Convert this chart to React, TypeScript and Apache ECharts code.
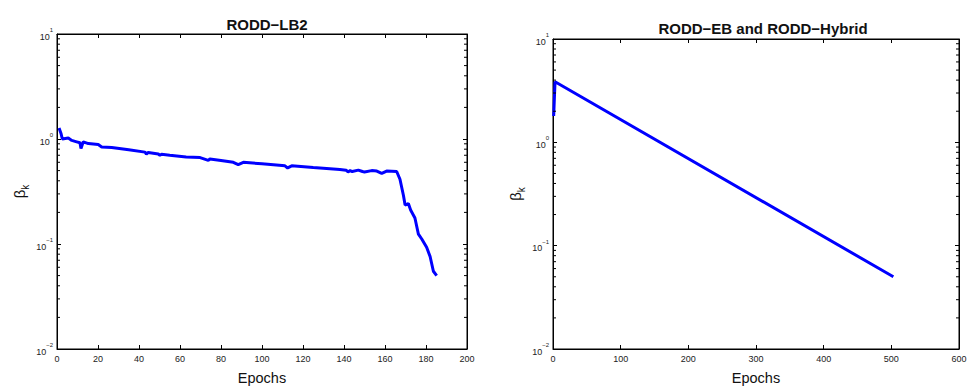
import React, { useEffect, useRef } from "react";
import * as echarts from "echarts";

// Left panel: RODD−LB2, beta_k per epoch
const lb2Epochs = [1, 2, 2.6, 5.5, 7.2, 9.6, 11.2, 11.7, 12.8, 15.3, 20.1, 21.8, 26.7, 35, 42.9, 43.6, 44.5, 49.4, 50.2, 51, 55, 63, 69.8, 73.8, 74.6, 80, 86, 88.4, 90.9, 100, 111.2, 112.5, 114.5, 125, 138, 141, 142, 143, 144, 147, 149, 150, 153.5, 156, 158.4, 160.8, 165.7, 167.3, 169, 169.8, 171.4, 172.5, 174.6, 176.3, 178, 180.3, 182, 183.6, 185.2];
const lb2Beta = [1.27, 1.12, 1.0, 1.02, 0.97, 0.94, 0.92, 0.81, 0.94, 0.905, 0.886, 0.84, 0.83, 0.79, 0.75, 0.72, 0.745, 0.72, 0.7, 0.715, 0.7, 0.675, 0.665, 0.625, 0.645, 0.625, 0.6, 0.57, 0.6, 0.58, 0.555, 0.53, 0.555, 0.535, 0.513, 0.505, 0.485, 0.5, 0.49, 0.505, 0.49, 0.485, 0.5, 0.495, 0.47, 0.495, 0.49, 0.414, 0.29, 0.235, 0.243, 0.211, 0.177, 0.124, 0.111, 0.093, 0.076, 0.055, 0.05];

// Right panel: RODD−EB and RODD−Hybrid
const ebEpochs = [1, 3, 503];
const ebBeta = [1.8, 3.86, 0.05];

// Axis decoration values
const yDecades = [0.01, 0.1, 1, 10];
const yMinorTicks = [0.02, 0.03, 0.04, 0.05, 0.06, 0.07, 0.08, 0.09, 0.2, 0.3, 0.4, 0.5, 0.6, 0.7, 0.8, 0.9, 2, 3, 4, 5, 6, 7, 8, 9];
const leftXTicks = { min: 0, max: 200, interval: 20 };
const rightXTicks = { min: 0, max: 600, interval: 100 };

const titles = ["RODD\u2212LB2", "RODD\u2212EB and RODD\u2212Hybrid"];

const FONT = "Liberation Sans, Arial, Helvetica, sans-serif";

function yLabel(v: number) {
  const e = Math.round(Math.log10(v));
  const s = e < 0 ? "\u2212" + Math.abs(e) : String(e);
  return `{b|10}{e|${s}}`;
}

const mkRich = () => ({
  b: { fontSize: 9, fontFamily: FONT, color: "#222", verticalAlign: "bottom", lineHeight: 14 },
  e: { fontSize: 6, fontFamily: FONT, color: "#222", verticalAlign: "top", lineHeight: 14 },
});

export default function App() {
  const ref = useRef<HTMLDivElement>(null);
  useEffect(() => {
    if (!ref.current) return;
    const chart = echarts.init(ref.current, null, { renderer: "svg" });
    const grids = [
      { left: 57, top: 34, width: 410, height: 324, show: true, borderColor: "#000", borderWidth: 1 },
      { left: 553, top: 39, width: 410, height: 324, show: true, borderColor: "#000", borderWidth: 1 },
    ];
    const xt = [leftXTicks, rightXTicks];
    const axisLine = () => ({ show: true, onZero: false, lineStyle: { color: "#000", width: 1 } });
    const tick = () => ({ show: true, inside: true, length: 4, lineStyle: { color: "#000", width: 1 } });
    const xAxis: any[] = [];
    const yAxis: any[] = [];
    grids.forEach((g, i) => {
      xAxis.push({
        type: "value",
        gridIndex: i,
        position: "bottom",
        min: xt[i].min,
        max: xt[i].max,
        interval: xt[i].interval,
        axisLine: axisLine(),
        axisTick: tick(),
        splitLine: { show: false },
        axisLabel: { fontSize: 9, fontFamily: FONT, color: "#222", margin: 5 },
        name: "Epochs",
        nameLocation: "middle",
        nameGap: 21,
        nameTextStyle: { fontSize: 14.5, fontFamily: FONT, color: "#111" },
      });
      xAxis.push({
        type: "value",
        gridIndex: i,
        position: "top",
        min: xt[i].min,
        max: xt[i].max,
        interval: xt[i].interval,
        axisLine: axisLine(),
        axisTick: tick(),
        splitLine: { show: false },
        axisLabel: { show: true, formatter: () => "" },
      });
      yAxis.push({
        type: "log",
        logBase: 10,
        gridIndex: i,
        position: "left",
        min: yDecades[0],
        max: yDecades[yDecades.length - 1],
        axisLine: axisLine(),
        axisTick: tick(),
        splitLine: { show: false },
        axisLabel: { formatter: yLabel, rich: mkRich(), margin: 4 },
        name: "{a|\u03b2}{s|k}",
        nameLocation: "middle",
        nameGap: 27,
        nameRotate: 90,
        nameTextStyle: {
          rich: {
            a: { fontSize: 15, fontFamily: FONT, color: "#111", verticalAlign: "top", lineHeight: 18 },
            s: { fontSize: 10, fontFamily: FONT, color: "#111", verticalAlign: "bottom", lineHeight: 18 },
          },
        },
      });
      yAxis.push({
        type: "log",
        logBase: 10,
        gridIndex: i,
        position: "right",
        min: yDecades[0],
        max: yDecades[yDecades.length - 1],
        axisLine: axisLine(),
        axisTick: tick(),
        splitLine: { show: false },
        axisLabel: { show: true, formatter: () => "" },
      });
    });

    const minorSeries = (i: number) => ({
      type: "custom",
      xAxisIndex: i * 2,
      yAxisIndex: i * 2,
      clip: false,
      z: 5,
      data: yMinorTicks.map((v) => [xt[i].min, v]),
      renderItem: (params: any, api: any) => {
        const p = api.coord([api.value(0), api.value(1)]);
        const cs = params.coordSys;
        return {
          type: "group",
          children: [
            { type: "line", shape: { x1: cs.x, y1: p[1], x2: cs.x + 3, y2: p[1] }, style: { stroke: "#000", lineWidth: 1 } },
            { type: "line", shape: { x1: cs.x + cs.width - 3, y1: p[1], x2: cs.x + cs.width, y2: p[1] }, style: { stroke: "#000", lineWidth: 1 } },
          ],
        };
      },
    });

    chart.setOption({
      animation: false,
      title: [
        { text: titles[0], left: 262, top: 12, textAlign: "center", textStyle: { fontSize: 15, fontWeight: "bold", fontFamily: FONT, color: "#111" } },
        { text: titles[1], left: 758, top: 16, textAlign: "center", textStyle: { fontSize: 15, fontWeight: "bold", fontFamily: FONT, color: "#111" } },
      ],
      grid: grids,
      xAxis,
      yAxis,
      series: [
        {
          type: "line",
          xAxisIndex: 0,
          yAxisIndex: 0,
          data: lb2Epochs.map((x, k) => [x, lb2Beta[k]]),
          showSymbol: false,
          lineStyle: { color: "#0000ff", width: 3 },
          itemStyle: { color: "#0000ff" },
        },
        {
          type: "line",
          xAxisIndex: 2,
          yAxisIndex: 2,
          data: ebEpochs.map((x, k) => [x, ebBeta[k]]),
          showSymbol: false,
          lineStyle: { color: "#0000ff", width: 3 },
          itemStyle: { color: "#0000ff" },
        },
        minorSeries(0),
        minorSeries(1),
      ],
    });
    return () => chart.dispose();
  }, []);
  return <div ref={ref} style={{ position: "fixed", left: 0, top: 0, width: 970, height: 390, background: "#fff" }} />;
}
